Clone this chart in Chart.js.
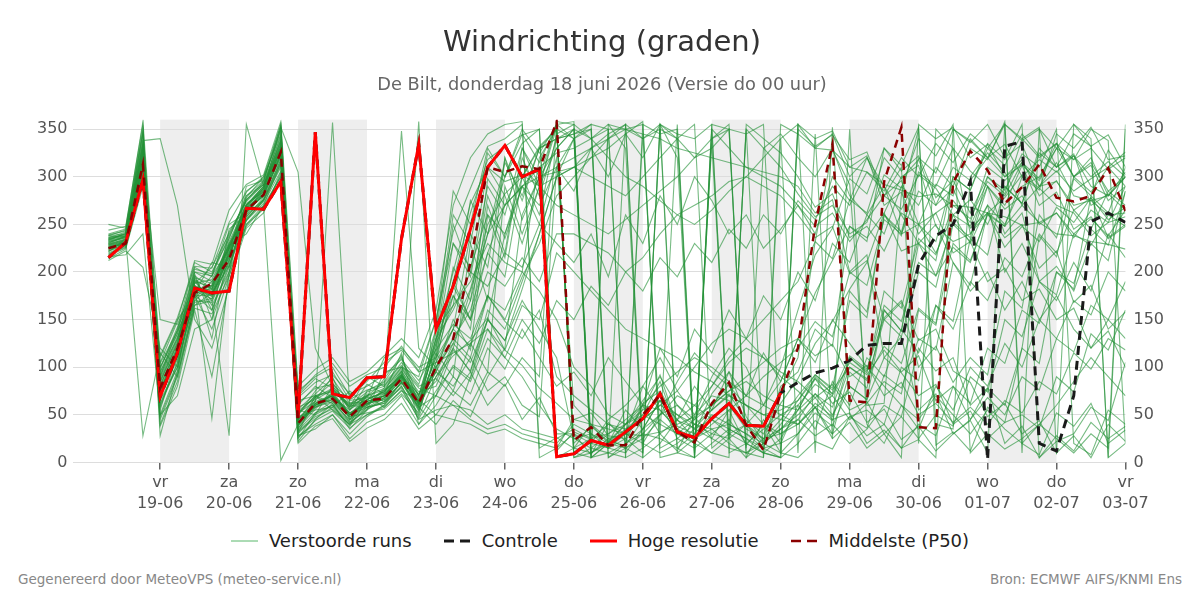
<!DOCTYPE html>
<html lang="nl">
<head>
    <meta charset="utf-8">
    <title>Windrichting (graden)</title>
    <script src="https://cdn.jsdelivr.net/npm/chart.js"></script>
    <style>
        body {
            margin: 0;
            background: #ffffff;
            font-family: 'DejaVu Sans', sans-serif;
        }
        .page {
            position: relative;
            width: 1200px;
            height: 600px;
        }
        .chart-box {
            position: absolute;
            left: 0;
            top: 0;
            width: 1200px;
            height: 525px;
        }
        .legend {
            position: absolute;
            left: 0;
            top: 528px;
            width: 1200px;
            display: flex;
            justify-content: center;
            gap: 32px;
            font-size: 18px;
            color: #222;
        }
        .legend-item {
            display: flex;
            align-items: center;
            gap: 11px;
            line-height: 26px;
        }
        .footer {
            position: absolute;
            top: 571px;
            font-size: 13.5px;
            color: #888;
        }
    </style>
</head>
<body>
<div class="page">
    <div class="chart-box"><canvas id="windChart"></canvas></div>
    <div class="legend" id="legend"></div>
    <div class="footer" style="left:18px">Gegenereerd door MeteoVPS (meteo-service.nl)</div>
    <div class="footer" style="right:18px">Bron: ECMWF AIFS/KNMI Ens</div>
</div>

<script>
    // uren sinds 18-06 00:00, om de 6 uur
    const runHours = [6,12,18,24,30,36,42,48,54,60,66,72,78,84,90,96,102,108,114,120,
        126,132,138,144,150,156,162,168,174,180,186,192,198,204,210,216,222,228,234,240,
        246,252,258,264,270,276,282,288,294,300,306,312,318,324,330,336,342,348,354,360];

    const dayHours = [24,48,72,96,120,144,168,192,216,240,264,288,312,336,360];
    const dayNames = ['vr','za','zo','ma','di','wo','do','vr','za','zo','ma','di','wo','do','vr'];
    const dayDates = ['19-06','20-06','21-06','22-06','23-06','24-06','25-06','26-06','27-06','28-06','29-06','30-06','01-07','02-07','03-07'];
    const shadedDays = [[24,48],[72,96],[120,144],[168,192],[216,240],[264,288],[312,336]];
    const yTicks = [0,50,100,150,200,250,300,350];

    const hoogResolutie = [215,231,297,69,115,183,178,180,267,266,295,47,347,72,68,89,90,235,334,140,
        185,245,310,333,300,308,6,9,23,18,32,46,72,32,26,46,62,39,38,73];

    const controle = [215,231,297,69,115,183,178,180,267,266,295,47,347,72,68,89,90,235,334,140,
        185,245,310,333,300,308,6,9,23,18,32,46,72,32,26,46,62,39,38,73,
        84,94,99,107,123,125,125,208,238,250,295,3,332,337,20,12,70,253,262,252];

    const mediaan = [225,230,313,78,120,178,188,213,265,281,326,41,62,67,48,65,67,88,62,100,
        130,210,310,305,311,308,358,23,37,18,18,50,71,32,21,62,84,39,13,73,
        120,250,334,65,63,295,352,37,36,294,327,307,272,289,313,278,274,280,309,264];

    // verstoorde runs (leden)
    const leden = [
        [228,232,318,72,110,182,175,220,262,285,330,45,58,72,52,60,70,95,55, 105,185,150,298,270,312,290,352, 20,38,22,18,45,70,30,20,60,82,40,15,72, 110,232,328,292,60,62,281,350,40,35,300,325,305,270,290,315,280,275,280,305],
        [235,238,335,95,130,195,160,205,270,290,340,30,70,55,40,75,85,110,70, 120,190,262,318,332,344,350,12, 32,24,15,30,56,92,38,30,72,95,48,22,80, 95,140,122,248,232,330,312,352,18,32,12,58,42,120,238,216,298,280,328,302],
        [220,228,300,60,105,170,185,230,258,278,318,55,50,80,60,58,62,80,48, 90,112,128,152,118,102,78,62, 45,52,28,25,62,75,44,36,55,72,44,30,62, 88,125,148,182,210,262,300,312,248,232,240,262,278,302,288,270,262,238,252,258],
        [240,245,350,28,95,188,205,240,275,295,355,22,45,62,35,55,95,100,90, 150,242,288,332,340,355,15,26, 15,10,22,40,50,85,35,25,45,60,35,25,45, 70,92,76,100,88,122,104,162,146,252,236,300,282,340,352,10,28,5,40,22],
        [232,236,325,85,125,200,190,215,268,282,322,38,65,90,45,70,58,75,65, 100,140,182,250,282,300,332,350, 340,350,5,20,35,50,60,40,30,25,350,330,310, 282,258,270,240,252,302,288,340,322,355,10,30,14,25,40,60,85,110,90,70],
        [226,230,305,110,150,175,140,195,250,270,300,60,80,68,55,82,72,115,40, 70,118,96,150,128,170,140,110, 25,30,15,10,35,65,25,15,30,45,20,10,25, 55,88,72,112,98,152,170,128,140,96,84,48,62,30,44,10,355,332,344,310],
        [238,240,342,45,90,165,170,210,285,298,348,28,35,50,30,48,60,85,58, 130,200,272,310,295,302,290,330, 350,20,15,355,340,350,10,5,350,330,310,300,290, 270,248,262,232,255,280,266,302,288,260,276,250,290,272,330,310,322,290,280,300],
        [218,226,296,100,135,205,195,250,262,288,335,50,75,95,65,68,110,120,100, 110,205,170,280,235,290,250,320, 60,40,25,30,80,110,75,50,90,120,100,60,85, 130,178,212,248,236,262,222,230,196,226,210,262,248,300,286,345,330,352,318,322],
        [230,234,312,75,118,185,180,225,272,284,328,42,60,70,50,62,66,90,62, 95,150,118,260,215,320,280,340, 345,355,350,5,15,30,45,25,10,5,355,340,325, 300,268,282,236,248,222,262,250,292,280,330,318,358,20,8,52,38,62,20,34],
        [236,242,338,340,270,150,120,185,255,275,310,70,88,78,58,90,80,105,82, 140,165,190,230,210,200,180,150, 100,80,50,40,65,90,60,45,80,110,130,150,170, 190,232,214,276,262,320,298,318,270,288,246,262,226,248,232,268,252,278,236,250],
        [222,230,308,90,140,210,200,235,280,292,332,48,55,58,75,60,78,348,120, 100,130,160,220,270,290,300,305, 310,300,290,280,300,320,340,355,15,30,40,20,10, 5,22,14,48,36,92,78,130,118,210,186,262,236,250,204,222,168,186,140,158],
        [234,240,330,65,100,178,210,205,265,280,325,35,62,66,42,55,68,82,358, 20,40,90,150,240,300,330,350, 5,15,30,45,60,55,35,20,10,25,40,60,100, 160,218,246,298,282,330,306,322,278,296,262,300,286,324,310,350,20,8,55,40],
        [244,248,355,55,115,192,165,200,278,300,345,25,52,60,38,66,75,92,68, 85,125,105,150,128,182,240,300, 340,355,15,25,10,350,340,320,330,350,5,20,40, 65,88,62,74,42,56,24,38,12,30,45,78,60,120,104,200,182,280,262,310],
        [224,232,315,80,122,198,150,245,260,283,320,44,68,84,55,72,64,78,45, 55,60,45,35,40,30,25,20, 40,30,20,15,25,45,30,25,35,40,30,20,35, 45,72,58,110,96,165,148,210,196,250,232,290,270,312,296,330,318,350,338,20],
        [229,235,320,150,145,186,130,228,240,270,315,65,70,74,62,64,88,112,60, 130,175,150,200,185,215,190,240, 240,230,220,200,215,240,260,270,280,295,300,290,280, 260,236,248,198,212,150,168,100,122,84,110,92,180,162,260,236,300,284,310,290],
        [214,224,290,70,108,172,190,218,290,296,352,40,58,64,48,52,56,72,52, 120,230,195,290,260,330,300,355, 10,5,355,350,340,355,15,30,50,40,30,15,5, 350,332,344,318,326,280,296,250,262,220,232,190,204,170,182,150,162,120,138,100],
        [237,238,345,38,80,160,90,190,246,262,305,75,90,100,70,85,105,118,95, 105,115,125,140,110,90,60,35, 25,15,10,5,355,345,350,5,20,35,25,10,5, 20,44,30,95,78,160,138,230,212,300,286,335,318,355,5,28,12,42,25,38],
        [233,241,328,88,128,203,198,242,274,292,338,33,48,56,40,58,62,84,56, 115,90,230,170,320,255,300,310, 320,330,340,355,20,50,85,115,95,80,60,40,30, 40,62,48,100,86,150,132,200,184,260,248,290,266,280,250,262,236,265,252,290],
        [226,229,310,95,135,185,46,200,268,288,330,58,66,76,60,74,80,98,74, 80,120,95,160,140,190,240,300, 310,330,345,355,5,20,45,60,80,105,120,110,95, 85,68,82,55,64,30,48,25,50,38,90,74,150,132,190,176,240,228,260,248],
        [231,237,322,82,120,190,170,28,355,290,330,52,64,70,46,62,72,88,60, 100,125,170,240,300,335,350,5, 15,25,40,30,20,10,20,35,45,35,25,15,20, 30,52,38,80,66,110,94,70,82,40,54,25,42,50,36,90,74,135,118,160],
        [225,231,316,78,115,182,178,222,268,268,2,40,60,66,50,58,68,86,58, 70,60,55,40,50,35,30,25, 35,25,30,40,55,65,50,40,55,70,60,50,55, 65,92,78,170,152,260,238,320,304,350,336,355,320,334,290,306,285,298,310,326],
        [227,233,318,76,112,180,182,224,270,286,352,305,120,80,58,66,74,92,66, 125,250,200,310,280,230,290,270, 260,250,240,255,270,285,300,320,340,355,10,25,35, 50,68,45,52,20,34,15,40,28,80,62,120,104,160,146,200,188,245,228,285],
        [229,233,314,74,116,184,176,216,266,284,326,46,64,357,60,68,72,94,64, 110,175,140,270,220,330,290,358, 355,5,20,35,50,40,30,45,60,75,85,70,60, 55,72,50,80,66,160,138,250,232,300,286,330,312,345,322,335,300,312,275,290],
        [221,235,28,115,90,170,168,212,258,276,318,50,70,62,45,60,76,90,72, 95,130,110,175,150,195,230,280, 300,320,340,350,355,5,10,25,40,55,70,90,105, 120,148,132,200,186,255,240,285,270,310,296,320,300,312,270,284,245,258,235,248],
        [212,222,205,120,100,176,186,226,264,280,324,44,62,70,52,64,70,90,60, 90,120,180,240,270,290,310,325, 330,340,350,350,345,340,330,325,320,315,310,305,300, 290,262,276,200,218,110,132,55,72,30,44,10,355,338,350,310,324,270,282,265],
        [232,237,326,68,112,194,188,232,270,290,336,36,56,74,50,70,78,96,70, 135,260,230,325,300,345,315,355, 5,10,25,15,5,355,345,340,355,10,20,35,50, 60,82,70,105,92,118,95,112,65,80,45,68,50,90,76,130,116,165,150,190],
        [223,229,304,92,132,176,160,208,256,274,312,62,78,82,66,76,82,100,78, 70,102,88,140,118,165,150,220, 200,180,160,140,130,120,110,95,85,70,60,50,45, 40,58,25,42,15,30,5,355,340,352,320,334,300,318,280,296,265,278,255,268],
        [236,239,334,58,104,196,182,236,276,294,342,30,50,60,42,56,64,84,54, 105,140,122,175,148,130,160,90, 70,55,40,35,45,60,75,100,125,140,130,110,90, 75,58,70,45,62,85,72,160,144,230,212,260,248,270,252,262,240,256,238,265],
        [228,234,320,86,126,188,192,228,262,282,330,42,60,68,52,62,66,88,62, 125,165,275,240,315,280,330,340, 350,5,10,20,30,25,15,5,355,350,345,355,10, 30,58,44,110,94,180,162,235,218,270,256,295,280,315,298,335,318,330,308,320],
        [231,236,324,76,118,186,174,218,266,286,328,40,62,72,50,64,70,92,64, 100,75,125,95,290,240,290,300, 310,320,330,345,358,15,25,40,35,20,10,5,355, 345,330,328,310,305,292,286,279,282,270,268,262,258,249,252,240,238,232,229,224],
        [219,227,298,104,138,174,196,224,254,276,316,56,72,88,62,70,84,102,80, 88,70,95,60,82,45,68,30, 30,20,45,60,80,55,35,50,70,65,40,25,30, 45,28,40,20,35,60,48,120,96,110,60,78,20,38,5,22,30,58,44,105],
        [239,243,348,50,96,168,172,212,280,296,350,26,44,54,36,50,60,80,50, 115,190,150,220,195,300,260,345, 355,340,320,300,290,275,260,250,265,285,300,320,340, 355,10,352,50,28,40,15,24,5,350,338,320,334,300,318,305,322,300,316,300],
        [227,231,308,98,142,180,186,226,264,280,322,54,68,78,56,66,74,96,66, 50,45,40,30,35,25,20,15, 45,40,35,30,28,32,40,48,60,75,90,105,120, 130,112,124,90,102,70,84,50,62,42,58,40,65,52,85,72,115,98,130,118],
        [234,238,332,70,114,190,184,230,268,288,334,38,58,66,48,62,68,90,62, 140,285,250,330,300,350,325,355, 358,10,20,30,45,60,50,35,25,15,10,20,35, 55,90,72,180,158,260,242,305,290,330,306,290,240,262,190,206,180,230,212,285],
        [225,230,312,80,120,184,178,220,264,282,324,46,62,70,50,62,70,92,62, 95,80,110,75,90,60,48,310, 340,5,20,40,60,80,95,110,100,85,70,60,50, 40,58,30,48,55,40,100,86,165,148,235,218,290,272,325,310,345,332,5,20],
        [233,237,326,84,124,192,182,228,270,288,332,42,60,70,50,64,70,90,64, 110,140,240,205,320,275,330,340, 345,350,5,15,30,50,70,60,45,30,20,10,5, 355,340,348,310,322,270,284,240,262,275,252,310,296,315,290,295,270,275,260,262],
        [216,218,240,50,70,140,150,200,248,268,300,28,40,50,25,42,50,70,40, 60,90,72,120,98,140,110,80, 95,70,110,85,60,120,90,140,115,160,130,175,150, 200,170,230,210,260,240,290,270,310,290,340,320,355,10,350,330,300,320,280,300],
        [250,246,358,105,148,212,208,265,292,302,358,80,98,110,85,95,112,130,110, 160,270,320,345,355,358,5,15, 30,8,42,22,60,30,12,48,25,55,18,40,10, 355,330,345,300,320,280,310,20,350,330,240,270,200,230,190,170,210,180,240,215],
        [230,238,330,62,100,175,176,214,270,290,338,34,52,64,44,58,64,84,58, 40,65,48,90,120,260,300,330, 350,340,355,330,10,355,320,5,340,350,15,330,345, 320,300,330,280,260,290,240,250,220,260,230,270,250,290,300,330,355,340,5,350],
        [226,232,314,90,130,180,172,218,260,276,314,52,70,76,58,70,76,100,70, 130,160,200,185,220,205,250,230, 210,240,195,260,230,280,250,300,275,240,260,225,245, 270,240,300,275,320,290,260,230,250,210,180,200,160,190,150,175,140,120,150,130],
        [235,240,336,100,138,200,196,238,276,292,344,68,84,92,72,80,92,108,86, 118,145,130,175,160,200,320,350, 15,40,20,55,35,65,45,80,55,95,70,115,85, 130,105,150,125,100,80,60,45,70,50,30,55,35,20,40,25,10,30,15,355],
        [222,228,302,40,85,165,178,206,254,272,306,20,38,46,22,36,45,62,35, 50,75,60,95,80,110,90,355, 340,20,350,10,345,30,355,15,335,25,350,5,340, 10,345,25,350,40,20,60,35,80,55,100,80,125,100,150,130,170,155,200,180],
        [238,244,346,112,152,206,204,252,284,300,354,72,92,104,80,92,100,122,96, 150,230,205,260,240,290,270,310, 285,330,300,345,320,355,340,10,350,25,5,45,20, 60,35,85,60,110,90,140,115,165,140,190,170,215,195,240,220,265,245,285,270],
        [217,225,294,48,92,162,156,196,250,266,302,32,46,58,40,50,58,76,46, 75,100,85,130,110,150,125,170, 150,185,165,200,180,215,195,230,210,245,225,260,240, 275,255,290,270,305,285,320,300,335,315,345,330,355,340,320,335,300,315,285,300]
    ];

    const lidKleur = 'rgba(35, 145, 55, 0.62)';
    const fontFam = "'DejaVu Sans', sans-serif";

    function toPoints(values) {
        return values.map((v, i) => ({ x: runHours[i], y: v }));
    }

    const datasets = leden.map(vals => ({
        label: 'Verstoorde runs',
        data: toPoints(vals),
        borderColor: lidKleur,
        borderWidth: 1.1,
        pointRadius: 0,
        order: 4
    }));
    datasets.push({
        label: 'Controle',
        data: toPoints(controle),
        borderColor: '#1a1a1a',
        borderWidth: 3,
        borderDash: [9, 6],
        pointRadius: 0,
        order: 3
    });
    datasets.push({
        label: 'Hoge resolutie',
        data: toPoints(hoogResolutie),
        borderColor: '#ff0000',
        borderWidth: 3,
        pointRadius: 0,
        order: 2
    });
    datasets.push({
        label: 'Middelste (P50)',
        data: toPoints(mediaan),
        borderColor: '#8b0000',
        borderWidth: 2.5,
        borderDash: [8, 6],
        pointRadius: 0,
        order: 1
    });

    // grijze banden om de dag
    const bandPlugin = {
        id: 'bands',
        beforeDraw(chart) {
            const { ctx, chartArea, scales } = chart;
            const x = scales.x;
            ctx.save();
            ctx.fillStyle = '#eeeeee';
            shadedDays.forEach(([a, b]) => {
                const x0 = x.getPixelForValue(a);
                const x1 = x.getPixelForValue(b);
                ctx.fillRect(x0, chartArea.top, x1 - x0, chartArea.bottom - chartArea.top);
            });
            ctx.restore();
        }
    };

    const yAxis = (pos) => ({
        position: pos,
        min: 0,
        max: 360,
        afterBuildTicks: (axis) => { axis.ticks = yTicks.map(v => ({ value: v })); },
        grid: pos === 'left'
            ? { color: '#dddddd', lineWidth: 1, drawTicks: false }
            : { display: false, drawTicks: false },
        border: { display: false },
        ticks: {
            color: '#555',
            padding: pos === 'left' ? 5 : 8,
            font: { family: fontFam, size: 16 }
        }
    });

    new Chart(document.getElementById('windChart'), {
        type: 'line',
        data: { datasets },
        options: {
            responsive: true,
            maintainAspectRatio: false,
            animation: false,
            layout: { autoPadding: false, padding: { left: 32, right: 28, top: 0, bottom: 8 } },
            elements: { line: { tension: 0 } },
            plugins: {
                legend: { display: false },
                tooltip: { enabled: false },
                title: {
                    display: true,
                    text: 'Windrichting (graden)',
                    color: '#333',
                    font: { family: fontFam, size: 29, weight: 'normal' },
                    padding: { top: 26, bottom: 0 }
                },
                subtitle: {
                    display: true,
                    text: 'De Bilt, donderdag 18 juni 2026 (Versie do 00 uur)',
                    color: '#666',
                    font: { family: fontFam, size: 17.8 },
                    padding: { top: 13.5, bottom: 24 }
                }
            },
            scales: {
                x: {
                    type: 'linear',
                    min: -6.5,
                    max: 360,
                    afterBuildTicks: (axis) => { axis.ticks = dayHours.map(v => ({ value: v })); },
                    grid: { drawOnChartArea: false, drawTicks: true, tickLength: 7, color: '#666', lineWidth: 1.5 },
                    border: { display: false },
                    ticks: {
                        color: '#555',
                        padding: 3,
                        maxRotation: 0,
                        autoSkip: false,
                        font: { family: fontFam, size: 16, lineHeight: 1.3 },
                        callback: (value) => {
                            const k = dayHours.indexOf(value);
                            return k < 0 ? '' : [dayNames[k], dayDates[k]];
                        }
                    }
                },
                y: yAxis('left'),
                y2: yAxis('right')
            }
        },
        plugins: [bandPlugin]
    });

    // legenda
    const legendItems = [
        { label: 'Verstoorde runs', color: 'rgba(60, 170, 80, 0.85)', width: 1, dash: '' },
        { label: 'Controle', color: '#1a1a1a', width: 3, dash: '10,6' },
        { label: 'Hoge resolutie', color: '#ff0000', width: 3, dash: '' },
        { label: 'Middelste (P50)', color: '#8b0000', width: 2.5, dash: '10,6' }
    ];
    const legendEl = document.getElementById('legend');
    legendItems.forEach(item => {
        const div = document.createElement('div');
        div.className = 'legend-item';
        div.innerHTML = `
            <svg width="27" height="10"><line x1="0" y1="5" x2="27" y2="5" stroke="${item.color}"
                stroke-width="${item.width}" ${item.dash ? `stroke-dasharray="${item.dash}"` : ''}/></svg>
            <span>${item.label}</span>`;
        legendEl.appendChild(div);
    });
</script>
</body>
</html>
